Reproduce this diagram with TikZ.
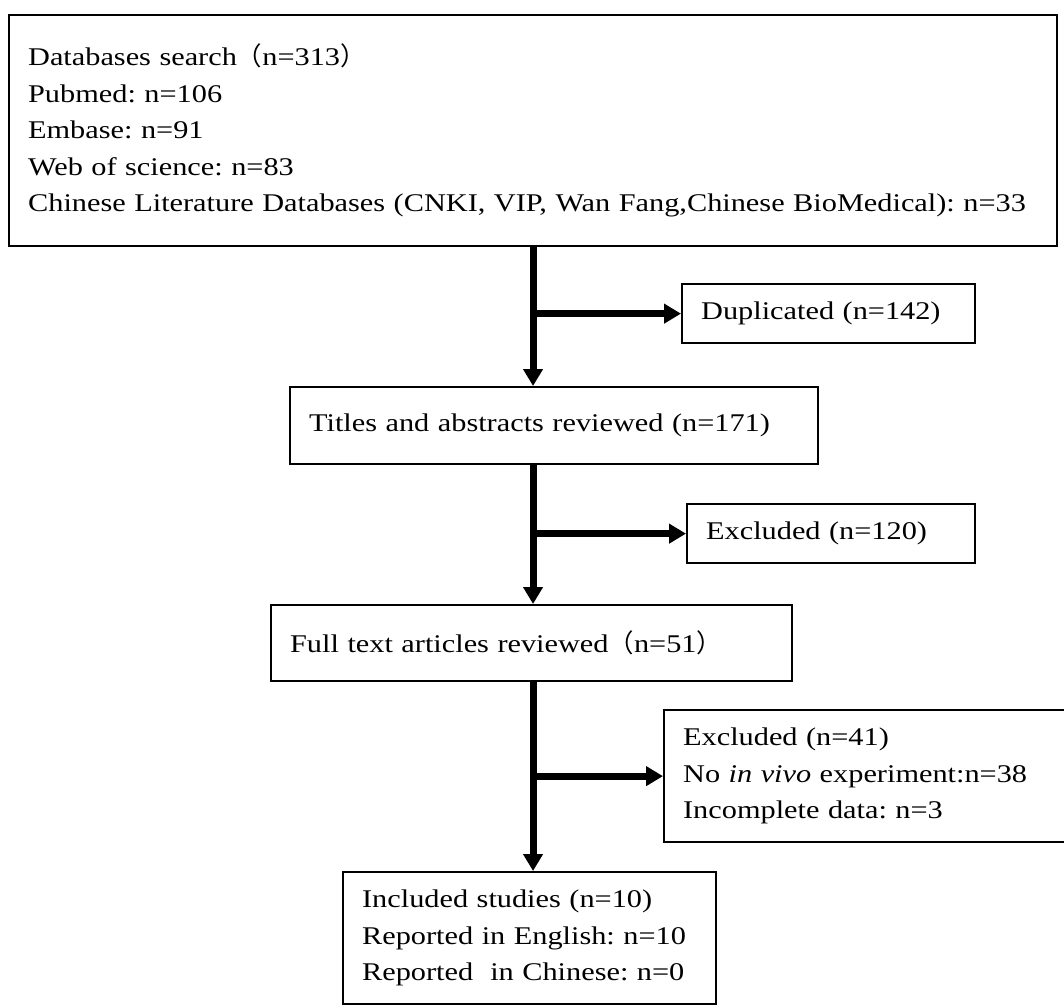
\documentclass[tikz,border=0pt]{standalone}
\usepackage{fontspec}
\setmainfont{Liberation Serif}[FakeStretch=1.19]
\newfontfamily\cjk{Noto Sans CJK SC}
\usetikzlibrary{arrows.meta}
\tikzset{flowbox/.style={draw, line width=1.3pt, anchor=north west, align=left, inner xsep=0.38cm, inner ysep=0pt, font=\fontsize{14.5}{20.8}\selectfont}}
\tikzset{flowarrow/.style={line width=4pt, -{Triangle[length=0.34cm,width=0.38cm]}}}
\newcommand{\fwl}{{\cjk （}}
\newcommand{\fwr}{{\cjk ）}}
\frenchspacing

\begin{document}
\begin{tikzpicture}[x=0.02cm,y=-0.02cm]
\useasboundingbox (0,0) rectangle (1064,1006);
% boxes
\node[flowbox, minimum width=20.96cm, minimum height=4.62cm, text width=20.2cm] (db) at (8,14)
  {Databases search\fwl n=313\fwr\\Pubmed: n=106\\Embase: n=91\\Web of science: n=83\\
   Chinese Literature Databases (CNKI, VIP, Wan Fang,Chinese BioMedical): n=33};
\node[flowbox, minimum width=5.86cm, minimum height=1.18cm, text width=5.1cm] (dup) at (681,283) {Duplicated (n=142)};
\node[flowbox, minimum width=10.56cm, minimum height=1.54cm, text width=9.8cm] (tit) at (289,386) {Titles and abstracts reviewed (n=171)};
\node[flowbox, minimum width=5.76cm, minimum height=1.18cm, text width=5cm] (exa) at (686,503) {Excluded (n=120)};
\node[flowbox, minimum width=10.42cm, minimum height=1.52cm, text width=9.66cm] (full) at (270,604) {Full text articles reviewed\fwl n=51\fwr};
\node[flowbox, minimum width=8.14cm, minimum height=2.64cm, text width=7.38cm] (exb) at (663,709)
  {Excluded (n=41)\\No \textit{in vivo} experiment:n=38\\Incomplete data: n=3};
\node[flowbox, minimum width=7.46cm, minimum height=2.64cm, text width=6.7cm] (inc) at (342,871)
  {Included studies (n=10)\\Reported in English: n=10\\Reported~ in Chinese: n=0};
% main line
\draw[flowarrow] (db.south) -- (db.south |- tit.north);
\draw[flowarrow] (db.south |- tit.south) -- (db.south |- full.north);
\draw[flowarrow] (db.south |- full.south) -- (db.south |- inc.north);
% side branches
\draw[flowarrow] (db.south |- dup.west) -- (dup.west);
\draw[flowarrow] (db.south |- exa.west) -- (exa.west);
\draw[flowarrow] (db.south |- exb.west) -- (exb.west);
\end{tikzpicture}
\end{document}
